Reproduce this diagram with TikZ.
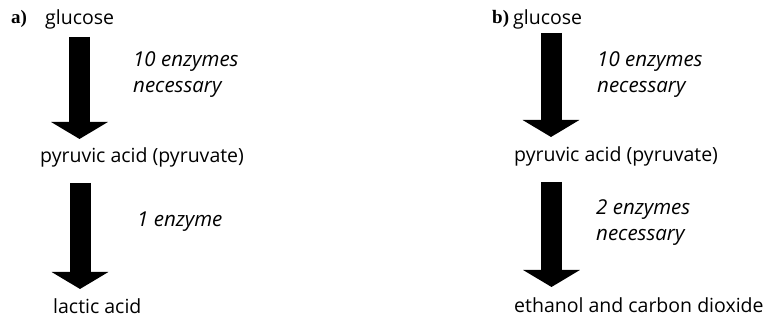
\documentclass[tikz,border=0pt]{standalone}
\usepackage{fontspec}
\setmainfont{Open Sans}
\newfontfamily\labfont{Liberation Serif}
\usetikzlibrary{arrows.meta}
\tikzset{
  chem/.style={anchor=west, inner sep=0pt, font=\fontsize{19.5}{22}\selectfont},
  enz/.style={anchor=west, inner sep=0pt, align=left, font=\fontsize{20.5}{26}\selectfont\itshape},
  panel/.style={anchor=west, inner sep=0pt, font=\labfont\bfseries\fontsize{19}{22}\selectfont},
  bigarrow/.style={line width=21pt, -{Triangle[length=17pt, width=56pt]}}
}
\begin{document}
\begin{tikzpicture}[x=1pt,y=-1pt]
\useasboundingbox (0,0) rectangle (768,320);
% panel a
\node[panel] (pa) at (11,19) {a)};
\node[chem] (glua) at (45,19) {glucose};
\node[chem] (pyra) at (40,157) {pyruvic acid (pyruvate)};
\node[chem] (lac) at (53,306) {lactic acid};
\node[enz] (ea1) at (133,75) {10 enzymes\\necessary};
\node[enz] (ea2) at (137,222) {1 enzyme};
\coordinate (a1s) at (79.5,37);
\coordinate (a1t) at (79.5,139);
\coordinate (a2s) at (80,183);
\coordinate (a2t) at (80,289);
\draw[bigarrow] (a1s) -- (a1t);
\draw[bigarrow] (a2s) -- (a2t);
% panel b
\node[panel] (pb) at (492,19) {b)};
\node[chem] (glub) at (513,19) {glucose};
\node[chem] (pyrb) at (514,156) {pyruvic acid (pyruvate)};
\node[chem] (eth) at (514,305) {ethanol and carbon dioxide};
\node[enz] (eb1) at (597,75) {10 enzymes\\necessary};
\node[enz] (eb2) at (596,223) {2 enzymes\\necessary};
\coordinate (b1s) at (551,33);
\coordinate (b1t) at (551,137);
\coordinate (b2s) at (551.5,182);
\coordinate (b2t) at (551.5,287);
\draw[bigarrow] (b1s) -- (b1t);
\draw[bigarrow] (b2s) -- (b2t);
\end{tikzpicture}
\end{document}
